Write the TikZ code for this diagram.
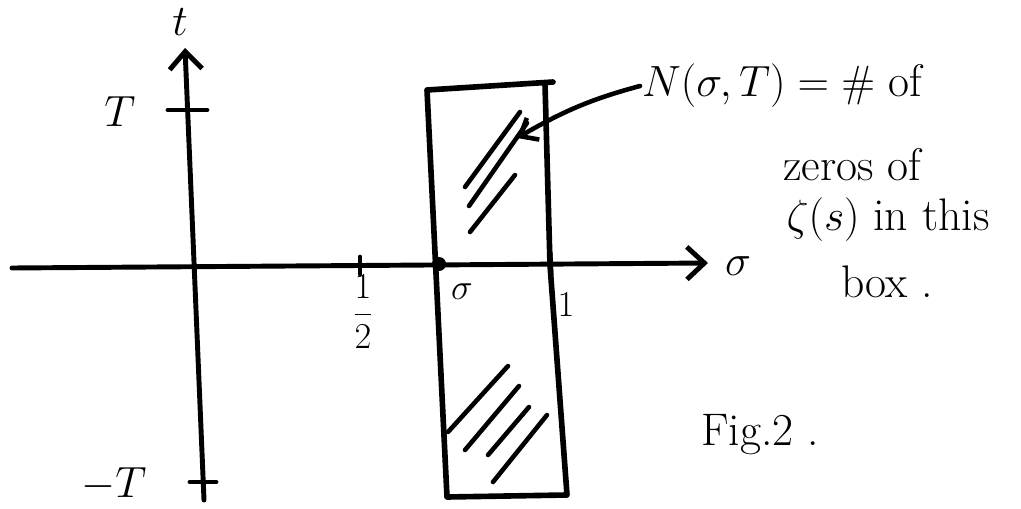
\documentclass[tikz,border=0pt]{standalone}
\usepackage{amsmath,amssymb}
\usetikzlibrary{arrows.meta}
\tikzset{
  axisline/.style = {-{Straight Barb[length=3.5mm,width=6.5mm]}, line width=2.8pt, line cap=round},
  tickline/.style = {line width=2.8pt, line cap=round},
  boxline/.style  = {line width=3.2pt, line cap=round, line join=round},
  hatch/.style    = {line width=2.6pt, line cap=round},
  annarrow/.style = {-{Straight Barb[length=3mm,width=5mm]}, line width=2.6pt, line cap=round},
  hand/.style     = {font=\fontsize{26}{30}\selectfont, inner sep=1pt},
  small/.style    = {font=\fontsize{22}{26}\selectfont, inner sep=1pt}
}

\begin{document}
\begin{tikzpicture}[x=0.02cm,y=0.02cm]
  \useasboundingbox (0,0) rectangle (1021,508);
  % --- axes
  \coordinate (xl) at (12,240);
  \coordinate (xr) at (708,245);
  \coordinate (yb) at (204,8);
  \coordinate (yt) at (185,460);
  \draw[axisline] (xl) -- (xr);
  \draw[axisline] (yb) -- (yt);
  \node[hand] (siglab) at (738,242) {$\sigma$};
  \node[hand] (tlab) at (180,486) {$t$};
  % --- ticks on t
  \draw[tickline] (168,398) -- (207,398);
  \draw[tickline] (190,26) -- (216,26);
  \node[hand] (Tp) at (120,396) {$T$};
  \node[hand] (Tm) at (114,24) {$-T$};
  % --- ticks on sigma
  \draw[tickline] (360,251) -- (360,234);
  \draw[tickline] (550,256) -- (551,234);
  \node[small] (half) at (363,196) {$\dfrac{1}{2}$};
  \node[small] (one) at (566,203) {$1$};
  \fill (439,244) circle (7);
  \node[small] (sig) at (462,216) {$\sigma$};
  % --- the box
  \draw[boxline] (553,426) -- (427,418) -- (447,11) -- (567,13) -- (550,243) -- (545,424);
  % upper hatching
  \draw[hatch] (465,321) -- (520,396);
  \draw[hatch] (469,302) -- (527,385);
  \draw[hatch] (470,276) -- (515,333);
  % lower hatching
  \draw[hatch] (448,76) -- (508,142);
  \draw[hatch] (465,58) -- (519,122);
  \draw[hatch] (488,53) -- (529,101);
  \draw[hatch] (493,26) -- (547,93);
  % --- annotation
  \node[hand,anchor=west] (ann1) at (640,422) {$N(\sigma,T) = \#$ of};
  \node[hand] (ann2) at (852,343) {zeros of};
  \node[hand] (ann3) at (888,288) {$\zeta(s)$ in this};
  \node[hand] (ann4) at (887,226) {box .};
  \coordinate (ztip) at (517,370);
  \draw[annarrow] (ann1.west) to[out=195,in=30] (ztip);
  \node[hand] (fig) at (760,73) {Fig.2 .};
\end{tikzpicture}
\end{document}
